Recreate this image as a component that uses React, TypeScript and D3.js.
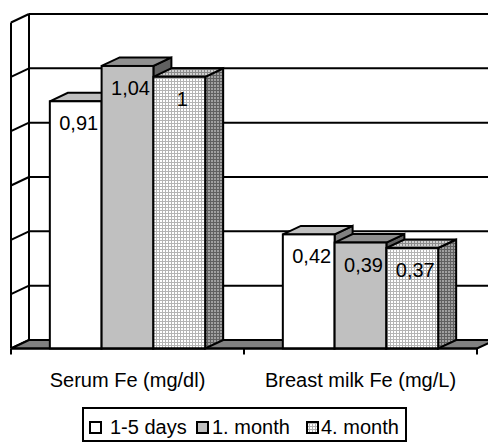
import React from "react";
import * as d3 from "d3";

const categories = ["Serum Fe (mg/dl)", "Breast milk Fe (mg/L)"];
const seriesNames = ["1-5 days", "1. month", "4. month"];
const values1to5days = [0.91, 0.42];
const values1month = [1.04, 0.39];
const values4month = [1.0, 0.37];
const yTicks = [0, 0.2, 0.4, 0.6, 0.8, 1.0, 1.2];

const seriesValues = [values1to5days, values1month, values4month];

const W = 488;
const H = 443;
const DX = 18;
const DY = -8.5;
const FONT = "'Liberation Sans', Arial, sans-serif";

const styles = [
  { front: "#ffffff", top: "#c0c0c0", side: "#808080" },
  { front: "#c0c0c0", top: "#909090", side: "#606060" },
  { front: "url(#patFront)", top: "url(#patTop)", side: "url(#patSide)" },
];

const fmt = (v: number) => String(v).replace(".", ",");

export default function App() {
  const x0 = d3.scaleBand<string>().domain(categories).range([11, 477]).paddingInner(0).paddingOuter(0);
  const groupW = x0.bandwidth() * (2 / 3);
  const x1 = d3.scaleBand<string>().domain(seriesNames).range([0, groupW]);
  const y = d3.scaleLinear().domain([0, 1.2]).range([348.5, 22.5]);
  const y0 = y(0);
  const xl = x0.range()[0];
  const xr = x0.range()[1];

  const bars: JSX.Element[] = [];
  const labels: JSX.Element[] = [];
  categories.forEach((c, ci) => {
    const gx = (x0(c) as number) + (x0.bandwidth() - groupW) / 2;
    seriesNames.forEach((s, si) => {
      const v = seriesValues[si][ci];
      const bx = gx + (x1(s) as number);
      const w = x1.bandwidth();
      const yt = y(v);
      const st = styles[si];
      const top = `${bx},${yt} ${bx + DX},${yt + DY} ${bx + w + DX},${yt + DY} ${bx + w},${yt}`;
      const side = `${bx + w},${yt} ${bx + w + DX},${yt + DY} ${bx + w + DX},${y0 + DY} ${bx + w},${y0}`;
      bars.push(
        <g key={`b${ci}-${si}`} stroke="#000" strokeWidth={2} strokeLinejoin="miter">
          <polygon points={side} fill={st.side} />
          <polygon points={top} fill={st.top} />
          <rect x={bx} y={yt} width={w} height={y0 - yt} fill={st.front} />
        </g>
      );
      labels.push(
        <text key={`l${ci}-${si}`} x={bx + w / 2 + 3} y={yt + 29} textAnchor="middle"
          fontFamily={FONT} fontSize={20} fill="#000">{fmt(v)}</text>
      );
    });
  });

  const legendItems = [
    { sq: 90, tx: 110 },
    { sq: 197, tx: 212 },
    { sq: 307, tx: 321 },
  ];

  return (
    <svg width={W} height={H} style={{ position: "absolute", left: 0, top: 0, background: "#fff" }}>
      <defs>
        <pattern id="patFront" width={3} height={3} patternUnits="userSpaceOnUse">
          <rect width={3} height={3} fill="#ffffff" />
          <rect width={3} height={1} fill="#b4b4b4" />
          <rect width={1} height={3} fill="#b4b4b4" />
        </pattern>
        <pattern id="patTop" width={3} height={3} patternUnits="userSpaceOnUse">
          <rect width={3} height={3} fill="#d0d0d0" />
          <rect width={3} height={1} fill="#8c8c8c" />
          <rect width={1} height={3} fill="#8c8c8c" />
        </pattern>
        <pattern id="patSide" width={3} height={3} patternUnits="userSpaceOnUse">
          <rect width={3} height={3} fill="#a0a0a0" />
          <rect width={3} height={1} fill="#606060" />
          <rect width={1} height={3} fill="#606060" />
        </pattern>
      </defs>

      {/* back wall gridlines */}
      {yTicks.map((t) => (
        <line key={`g${t}`} x1={xl + DX} x2={W + 20} y1={y(t) + DY} y2={y(t) + DY} stroke="#000" strokeWidth={2} />
      ))}
      {/* left wall */}
      <line x1={xl + DX} x2={xl + DX} y1={y(1.2) + DY} y2={y0 + DY} stroke="#000" strokeWidth={2} />
      <line x1={xl} x2={xl} y1={y(1.2)} y2={y0} stroke="#000" strokeWidth={2} />
      {yTicks.map((t) => (
        <line key={`w${t}`} x1={xl} x2={xl + DX} y1={y(t)} y2={y(t) + DY} stroke="#000" strokeWidth={2} />
      ))}
      {/* floor */}
      <polygon
        points={`${xl},${y0} ${xl + DX},${y0 + DY} ${xr + DX},${y0 + DY} ${xr},${y0}`}
        fill="#808080" stroke="#000" strokeWidth={2}
      />
      {bars}
      {/* front axis */}
      <line x1={xl} x2={xr} y1={y0} y2={y0} stroke="#000" strokeWidth={2} />
      {[xl, xl + x0.bandwidth(), xr].map((tx, i) => (
        <line key={`t${i}`} x1={tx} x2={tx} y1={y0} y2={y0 + 6} stroke="#000" strokeWidth={2} />
      ))}
      {labels}
      {categories.map((c) => (
        <text key={c} x={(x0(c) as number) + x0.bandwidth() / 2} y={387} textAnchor="middle"
          fontFamily={FONT} fontSize={20} fill="#000">{c}</text>
      ))}
      {/* legend */}
      <rect x={83} y={408} width={323} height={33} fill="#fff" stroke="#000" strokeWidth={2} />
      {seriesNames.map((s, i) => (
        <g key={s}>
          <rect x={legendItems[i].sq} y={422} width={11} height={11}
            fill={styles[i].front} stroke="#000" strokeWidth={2} />
          <text x={legendItems[i].tx} y={434} fontFamily={FONT} fontSize={20} fill="#000">{s}</text>
        </g>
      ))}
    </svg>
  );
}
